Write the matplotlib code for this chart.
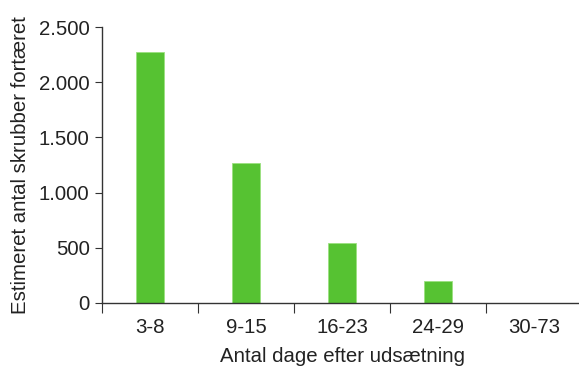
import matplotlib
matplotlib.use("Agg")
import matplotlib.pyplot as plt
from matplotlib.ticker import FixedLocator, FuncFormatter, NullFormatter

categories = ["3-8", "9-15", "16-23", "24-29", "30-73"]
values = [2270, 1268, 546, 202, 0]
y_ticks = [0, 500, 1000, 1500, 2000, 2500]

plt.rcParams["font.family"] = ["Liberation Sans", "DejaVu Sans"]
plt.rcParams["font.size"] = 14.7

fig = plt.figure(figsize=(5.79, 3.67), dpi=100)
ax = fig.add_axes([0.1762, 0.1744, 0.829, 0.752])

x = range(len(categories))
ax.bar(x, values, width=0.3, color="#56c232", edgecolor="#9be07f", linewidth=0.6)

ax.set_xlim(-0.5, 4.5)
ax.set_ylim(0, 2500)

ax.set_yticks(y_ticks)
ax.yaxis.set_major_formatter(FuncFormatter(lambda v, p: f"{int(v):,}".replace(",", ".")))

# boundary ticks between categories, labels centered on the bars
ax.xaxis.set_major_locator(FixedLocator([i - 0.5 for i in range(len(categories) + 1)]))
ax.xaxis.set_major_formatter(NullFormatter())
ax.xaxis.set_minor_locator(FixedLocator(list(x)))
ax.set_xticklabels(categories, minor=True)

for s in ("top", "right"):
    ax.spines[s].set_visible(False)
for s in ("left", "bottom"):
    ax.spines[s].set_color("#333333")
    ax.spines[s].set_linewidth(1.0)

ax.tick_params(axis="y", direction="out", length=5, color="#333333", labelcolor="#222222", pad=4)
ax.tick_params(axis="x", which="major", direction="out", length=7, color="#333333")
ax.tick_params(axis="x", which="minor", length=0, pad=11, labelcolor="#222222")

ax.set_ylabel("Estimeret antal skrubber fortæret", color="#222222", labelpad=6)
ax.set_xlabel("Antal dage efter udsætning", color="#222222", labelpad=7)

fig.savefig("out.png", dpi=100)
